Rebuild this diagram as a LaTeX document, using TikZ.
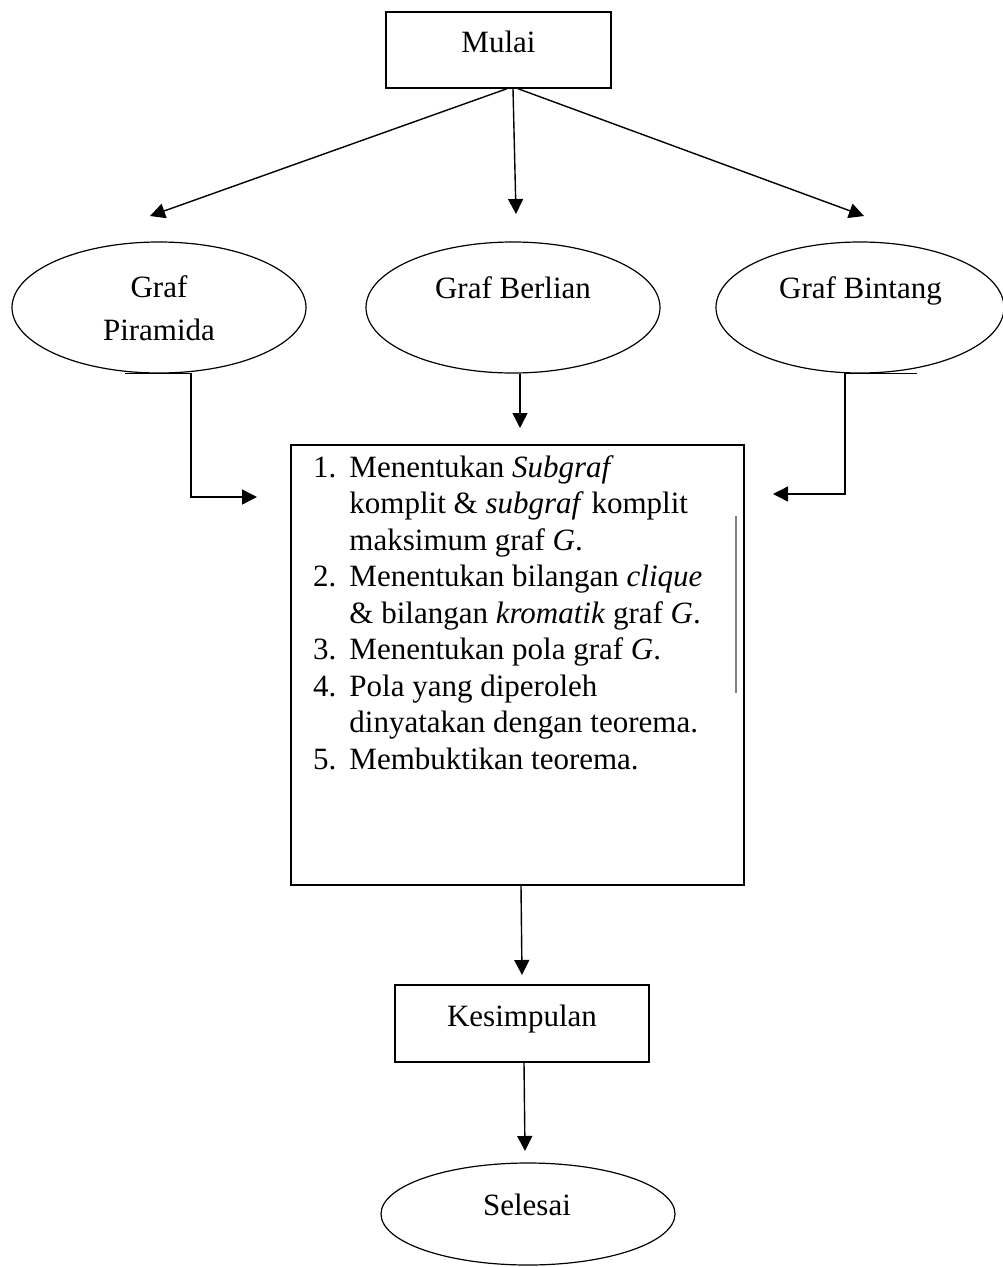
\documentclass[tikz,border=0pt]{standalone}
\usepackage{fontspec}
\setmainfont{Liberation Serif}
\usetikzlibrary{shapes.geometric,arrows.meta}
\definecolor{abu}{rgb}{0.5,0.5,0.5}

\begin{document}
\begin{tikzpicture}[x=1pt, y=-1pt,
  teks/.style={font=\fontsize{31}{36.5}\selectfont, inner sep=0},
  kotak/.style={draw, line width=1.4pt, inner sep=0, teks},
  oval/.style={draw, ellipse, line width=1.2pt, inner sep=0},
  panah/.style={line width=1.4pt, -{Triangle[length=15pt,width=15pt]}}]
\useasboundingbox (0,0) rectangle (1003,1267);

% awal
\node[kotak, minimum width=225pt, text height=40pt, text depth=36pt] (mulai) at (498.5,50) {Mulai};

% tiga graf
\node[oval, minimum width=294pt, minimum height=131pt] (piramida) at (159,307.5) {};
\node[oval, minimum width=294pt, minimum height=131pt] (berlian) at (513,307.5) {};
\node[oval, minimum width=288pt, minimum height=131pt] (bintang) at (860,307.5) {};
\node[teks, anchor=base] (t-piramida) at (159,297)
  {\fontsize{31}{43}\selectfont\begin{tabular}[t]{@{}c@{}}Graf\\Piramida\end{tabular}};
\node[teks, anchor=base] (t-berlian) at (513,298) {Graf Berlian};
\node[teks, anchor=base] (t-bintang) at (860.5,298) {Graf Bintang};

\coordinate (u1) at (150,216);
\coordinate (u2) at (516,214);
\coordinate (u3) at (864,216);
\draw[panah] ([xshift=8.5pt]mulai.south) -- (u1);
\draw[panah] ([xshift=14.5pt]mulai.south) -- (u2);
\draw[panah] ([xshift=19.5pt]mulai.south) -- (u3);

% langkah penelitian
\node[draw, line width=1.4pt, minimum width=453pt, minimum height=440pt, inner sep=0] (langkah) at (517.5,665) {};
\node[teks, anchor=base west] (isi) at (313,477) {%
  \begin{tabular}[t]{@{}l@{\hspace{13pt}}l@{}}
  1. & Menentukan \textit{Subgraf}\\
     & komplit \& \textit{subgraf} komplit\\
     & maksimum graf \textit{G}.\\
  2. & Menentukan bilangan \textit{clique}\\
     & \& bilangan \textit{kromatik} graf \textit{G}.\\
  3. & Menentukan pola graf \textit{G}.\\
  4. & Pola yang diperoleh\\
     & dinyatakan dengan teorema.\\
  5. & Membuktikan teorema.
  \end{tabular}};
\draw[abu, line width=2pt] (736,516) -- (736,693);

\coordinate (m1) at (257,497);
\coordinate (m2) at (520,428);
\coordinate (m3) at (773,494);
\draw[panah] ([xshift=-34pt]piramida.south) -- ([xshift=32pt]piramida.south) |- (m1);
\draw[panah] ([xshift=7pt]berlian.south) -- (m2);
\draw[panah] ([xshift=57pt]bintang.south) -- ([xshift=-15pt]bintang.south) |- (m3);

% akhir
\node[kotak, minimum width=254pt, text height=41pt, text depth=36pt] (kesimpulan) at (522,1023.5) {Kesimpulan};
\node[oval, minimum width=294pt, minimum height=102pt] (selesai) at (528,1214) {};
\node[teks, anchor=base] (t-selesai) at (527,1215) {Selesai};

\coordinate (k1) at (522,975);
\coordinate (s1) at (525,1151);
\draw[panah] ([xshift=3.5pt]langkah.south) -- (k1);
\draw[panah] ([xshift=2pt]kesimpulan.south) -- (s1);
\end{tikzpicture}
\end{document}
